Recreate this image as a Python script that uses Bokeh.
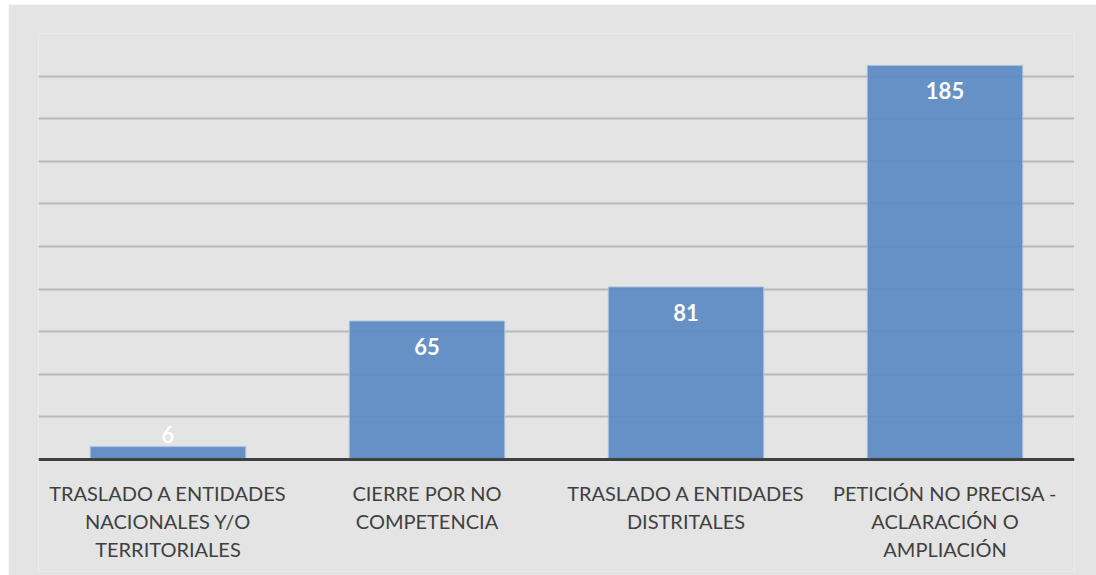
from bokeh.plotting import figure
from bokeh.models import ColumnDataSource, Range1d, FixedTicker, Span
from bokeh.core.properties import value
from bokeh.embed import file_html
from bokeh.resources import INLINE

categories = [
    "TRASLADO A ENTIDADES NACIONALES Y/O TERRITORIALES",
    "CIERRE POR NO COMPETENCIA",
    "TRASLADO A ENTIDADES DISTRITALES",
    "PETICIÓN NO PRECISA - ACLARACIÓN O AMPLIACIÓN",
]
tick_label_lines = [
    ["TRASLADO A ENTIDADES", "NACIONALES Y/O", "TERRITORIALES"],
    ["CIERRE POR NO", "COMPETENCIA"],
    ["TRASLADO A ENTIDADES", "DISTRITALES"],
    ["PETICIÓN NO PRECISA -", "ACLARACIÓN O", "AMPLIACIÓN"],
]
counts = [6, 65, 81, 185]
y_ticks = [0, 20, 40, 60, 80, 100, 120, 140, 160, 180, 200]

bg = "#e4e4e4"
# frame extends below zero so the category texts can sit inside it
p = figure(
    x_range=categories, y_range=Range1d(-52.6, 200),
    width=1088, height=571, margin=(4, 0, 0, 8),
    output_backend="svg", toolbar_location=None,
    min_border_left=30, min_border_right=22, min_border_top=29, min_border_bottom=4,
    background_fill_color=bg, border_fill_color=bg,
)
p.outline_line_color = None
p.xaxis.visible = False
p.yaxis.visible = False

p.ygrid.ticker = FixedTicker(ticks=y_ticks)
p.ygrid.grid_line_color = "#b9b9b9"
p.ygrid.grid_line_width = 2
p.xgrid.grid_line_color = None

src = ColumnDataSource(dict(cat=categories, val=[float(v) for v in counts]))
p.vbar(x="cat", top="val", bottom=0, width=0.6, source=src,
       fill_color="#5a8ac3", fill_alpha=0.92, line_color="#a8c0dd", line_width=1)

p.add_layout(Span(location=0, dimension="width", line_color="#404040", line_width=3))

inside = ColumnDataSource(dict(cat=[c for c, v in zip(categories, counts) if v >= 20],
                               val=[v for v in counts if v >= 20],
                               lab=[str(v) for v in counts if v >= 20]))
outside = ColumnDataSource(dict(cat=[c for c, v in zip(categories, counts) if v < 20],
                                val=[v for v in counts if v < 20],
                                lab=[str(v) for v in counts if v < 20]))
p.text(x="cat", y="val", text="lab", source=inside, text_align="center",
       text_baseline="top", y_offset=17, text_color="white",
       text_font=value("Lato"), text_font_style="bold", text_font_size="22px")
p.text(x="cat", y="val", text="lab", source=outside, text_align="center",
       text_baseline="bottom", y_offset=-4, text_color="white",
       text_font=value("Lato"), text_font_style="bold", text_font_size="22px")

# category labels, one row per text line
lc, ll, lo = [], [], []
for c, lines in zip(categories, tick_label_lines):
    for i, t in enumerate(lines):
        lc.append(c)
        ll.append(t)
        lo.append(34 + 28 * i)
lab_src = ColumnDataSource(dict(cat=lc, line=ll, off=lo, y0=[0] * len(lc)))
p.text(x="cat", y="y0", text="line", y_offset="off", source=lab_src,
       text_align="center", text_baseline="middle",
       text_font=value("Lato"), text_font_size="20px", text_color="#404040")

open("out.html", "w").write(file_html(p, INLINE))
